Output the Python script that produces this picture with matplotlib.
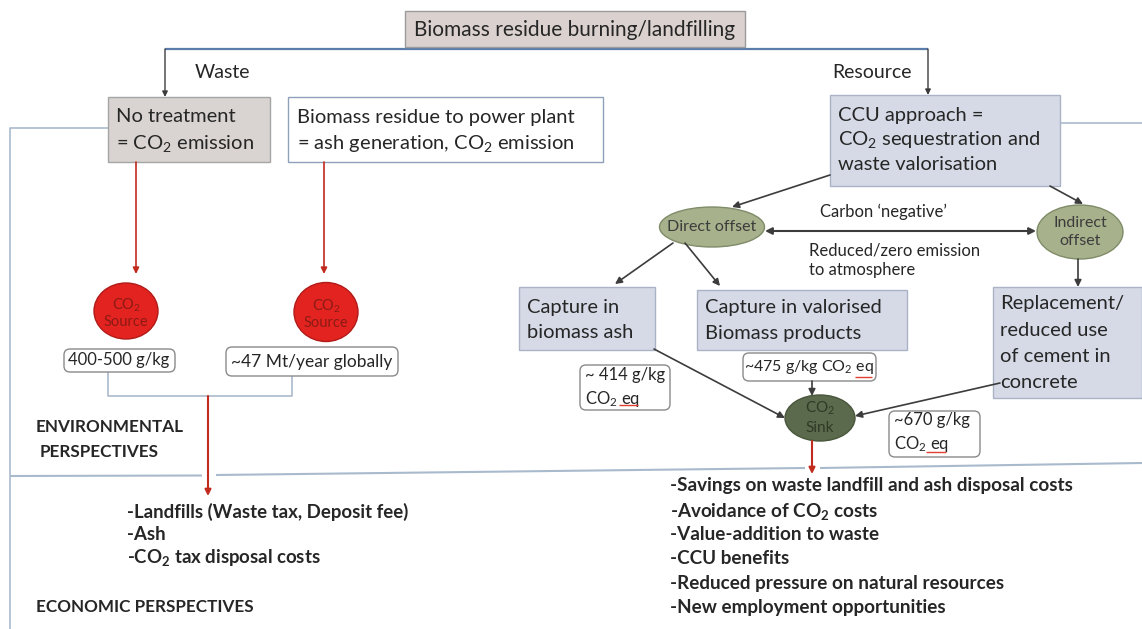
import matplotlib
matplotlib.use("Agg")
import matplotlib.pyplot as plt
from matplotlib.patches import Rectangle, Ellipse, FancyBboxPatch

plt.rcParams['font.family'] = ['Lato', 'DejaVu Sans']
plt.rcParams['mathtext.fontset'] = 'custom'
plt.rcParams['mathtext.rm'] = 'Lato'
plt.rcParams['mathtext.bf'] = 'Lato:bold'
plt.rcParams['mathtext.default'] = 'regular'

# --- texts ---
title_text = "Biomass residue burning/landfilling"
branch_labels = ["Waste", "Resource"]
no_treat_lines = ["No treatment", "= CO$_2$ emission"]
power_lines = ["Biomass residue to power plant", "= ash generation, CO$_2$ emission"]
ccu_lines = ["CCU approach =", "CO$_2$ sequestration and", "waste valorisation"]
source_values = ["400-500 g/kg", "~47 Mt/year globally"]
offset_labels = ["Direct offset", "Indirect\noffset"]
carbon_label = "Carbon \u2018negative\u2019"
emission_lines = ["Reduced/zero emission", "to atmosphere"]
capture_ash_lines = ["Capture in", "biomass ash"]
capture_val_lines = ["Capture in valorised", "Biomass products"]
replace_lines = ["Replacement/", "reduced use", "of cement in", "concrete"]
sink_values = ["~ 414 g/kg\nCO$_2$ eq", "~475 g/kg CO$_2$ eq", "~670 g/kg\nCO$_2$ eq"]
env_label = ["ENVIRONMENTAL", "PERSPECTIVES"]
econ_label = "ECONOMIC PERSPECTIVES"
waste_costs = ["-Landfills (Waste tax, Deposit fee)", "-Ash",
               "-CO$_\\mathbf{2}$ tax disposal costs"]
resource_benefits = ["-Savings on waste landfill and ash disposal costs",
                     "-Avoidance of CO$_\\mathbf{2}$ costs",
                     "-Value-addition to waste",
                     "-CCU benefits",
                     "-Reduced pressure on natural resources",
                     "-New employment opportunities"]

# --- styles ---
TXT = '#262626'
BLUE = '#5a7dab'
PALE = '#a9bacd'
RED = '#c22a1e'
GREY = '#3c3c3c'
BOXBLUE = '#d5dae6'
BOXSIZE = 14.5

fig = plt.figure(figsize=(11.42, 6.29), dpi=100)
ax = fig.add_axes([0, 0, 1, 1])
ax.set_xlim(0, 1142)
ax.set_ylim(629, 0)
ax.axis('off')


def box(x0, y0, x1, y1, fc, ec, lw=1.0):
    ax.add_patch(Rectangle((x0, y0), x1 - x0, y1 - y0, facecolor=fc,
                           edgecolor=ec, lw=lw, zorder=2))


def rbox(x0, y0, x1, y1):
    ax.add_patch(FancyBboxPatch((x0, y0), x1 - x0, y1 - y0,
                                boxstyle="round,pad=0,rounding_size=6",
                                facecolor='white', edgecolor='#8a8a8a', lw=1.0, zorder=2))


def lines(x, ys, texts, size=BOXSIZE, **kw):
    for y, t in zip(ys, texts):
        ax.text(x, y, t, fontsize=size, color=TXT, va='center', ha='left', zorder=5, **kw)


def arrow(p0, p1, color=GREY, lw=1.2, style='-|>', ms=10):
    ax.annotate('', xy=p1, xytext=p0,
                arrowprops=dict(arrowstyle=style, color=color, lw=lw,
                                mutation_scale=ms, shrinkA=0, shrinkB=0), zorder=4)


def seg(xs, ys, color, lw=1.2, z=1):
    ax.plot(xs, ys, color=color, lw=lw, zorder=z, solid_capstyle='butt')


def squiggle(x0, x1, y):
    # red spell-check underline under "eq"
    seg([x0, x1], [y, y], '#e04030', 1.0, z=6)


# top title box and branching line
box(405, 11, 745, 47, '#dbd2d0', '#9a9a9a')
ax.text(575, 30, title_text, fontsize=15, color=TXT, ha='center', va='center', zorder=5)
seg([165, 928], [49, 49], BLUE, 1.6)
arrow((165, 49), (165, 97), color=GREY, lw=1.0, ms=8)
arrow((928, 49), (928, 95), color=GREY, lw=1.0, ms=8)
ax.text(195, 72, branch_labels[0], fontsize=14, color=TXT, va='center')
ax.text(832, 72, branch_labels[1], fontsize=14, color=TXT, va='center')

# waste side boxes
box(108, 97, 270, 162, '#d9d4d1', '#a5a5a5')
lines(116, [117, 143], no_treat_lines)
box(288, 97, 603, 162, 'white', '#8fa0ba')
lines(297, [117, 143], power_lines)

# outer pale frame lines
seg([108, 10, 10], [128, 128, 629], PALE, 1.2)
seg([1060, 1142], [123, 123], PALE, 1.2)
seg([10, 202], [476, 475.5], PALE, 1.5)
seg([216, 805], [475, 468], PALE, 1.5)
seg([820, 1142], [468, 463], PALE, 1.5)

# red arrows to CO2 sources
arrow((136, 162), (136, 274), color=RED, lw=1.2, ms=9)
arrow((324, 162), (324, 274), color=RED, lw=1.2, ms=9)
for cx, cy, w, h in [(126, 311, 64, 56), (326, 312, 64, 59)]:
    ax.add_patch(Ellipse((cx, cy), w, h, facecolor='#e3231f', edgecolor='#b01b18', lw=1.0, zorder=3))
    ax.text(cx, cy - 6, "CO$_2$", fontsize=10.5, color='#8c1a15', ha='center', va='center', zorder=5)
    ax.text(cx, cy + 11, "Source", fontsize=10.5, color='#8c1a15', ha='center', va='center', zorder=5)

rbox(64, 349, 175, 372)
ax.text(119, 360, source_values[0], fontsize=12, color=TXT, ha='center', va='center', zorder=5)
rbox(226, 347, 398, 376)
ax.text(312, 362, source_values[1], fontsize=12.5, color=TXT, ha='center', va='center', zorder=5)

seg([108, 108, 292, 292], [372, 396, 396, 376], PALE, 1.2)
arrow((208, 396), (208, 496), color=RED, lw=1.5, ms=9)

ax.text(36, 427, env_label[0], fontsize=12.3, fontweight='bold', color=TXT, va='center')
ax.text(40, 452, env_label[1], fontsize=12.3, fontweight='bold', color=TXT, va='center')
ax.text(36, 607, econ_label, fontsize=12.3, fontweight='bold', color=TXT, va='center')
lines(127, [512, 535, 558], waste_costs, size=13.4, fontweight='bold')

# resource side
box(830, 95, 1060, 186, BOXBLUE, '#aab3c6')
lines(838, [115, 140, 165], ccu_lines)

arrow((830, 175), (732, 207))
arrow((1050, 186), (1083, 204))

ax.add_patch(Ellipse((712, 227), 105, 40, facecolor='#a7b18b', edgecolor='#7f8b69', lw=1.0, zorder=3))
ax.text(712, 227, offset_labels[0], fontsize=11.5, color=GREY, ha='center', va='center', zorder=5)
ax.add_patch(Ellipse((1080, 232), 86, 54, facecolor='#a7b18b', edgecolor='#7f8b69', lw=1.0, zorder=3))
ax.text(1080, 232, offset_labels[1], fontsize=11.5, color=GREY, ha='center', va='center',
        linespacing=1.35, zorder=5)

arrow((765, 231), (1036, 231), style='<|-|>', lw=1.5)
ax.text(820, 212, carbon_label, fontsize=12, color=TXT, va='center')
lines(809, [250, 270], emission_lines, size=12)

arrow((673, 243), (615, 284))
arrow((685, 243), (720, 286))
arrow((1078, 259), (1078, 287))

box(519, 287, 655, 350, BOXBLUE, '#aab3c6')
lines(527, [307, 333], capture_ash_lines)
box(697, 290, 907, 350, BOXBLUE, '#aab3c6')
lines(705, [307, 333], capture_val_lines)
box(993, 287, 1142, 398, BOXBLUE, '#aab3c6')
lines(1000, [304, 331, 357, 383], replace_lines)

rbox(580, 365, 670, 410)
ax.text(585, 388, sink_values[0], fontsize=12, color=TXT, va='center', linespacing=1.45, zorder=5)
squiggle(619, 638, 405)
rbox(743, 353, 876, 381)
ax.text(809, 367, sink_values[1], fontsize=11.5, color=TXT, ha='center', va='center', zorder=5)
squiggle(855, 872, 377)
rbox(889, 411, 980, 457)
ax.text(894, 433, sink_values[2], fontsize=12, color=TXT, va='center', linespacing=1.45, zorder=5)
squiggle(926, 946, 452)

ax.add_patch(Ellipse((820, 418), 70, 46, facecolor='#5b6a4c', edgecolor='#48553b', lw=1.0, zorder=3))
ax.text(820, 408, "CO$_2$", fontsize=11, color='#2f3a26', ha='center', va='center', zorder=5)
ax.text(820, 428, "Sink", fontsize=11, color='#2f3a26', ha='center', va='center', zorder=5)

arrow((654, 349), (785, 418))
arrow((812, 381), (812, 396))
arrow((1000, 383), (855, 416))
arrow((812, 441), (812, 474), color=RED, lw=1.5, ms=9)

lines(670, [485, 511, 534, 558, 583, 607], resource_benefits, size=13.6, fontweight='bold')

fig.savefig("out.png", dpi=100)
